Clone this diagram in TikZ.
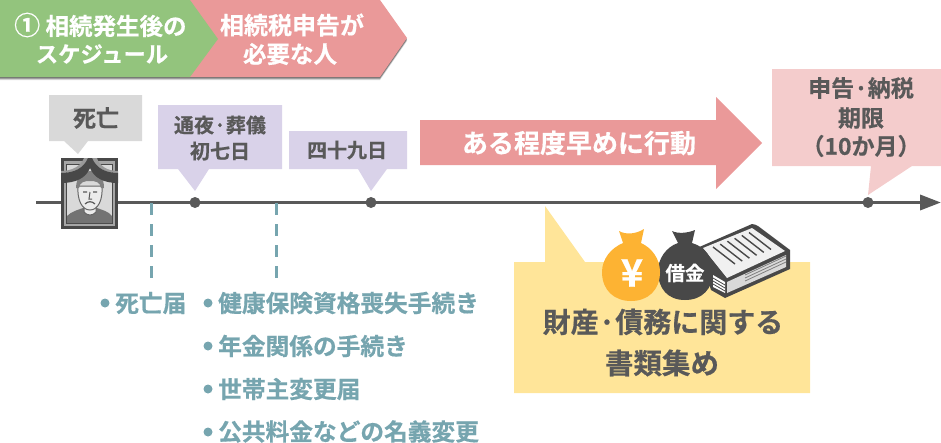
\documentclass[tikz,border=0pt]{standalone}
\usepackage{fontspec}
\setmainfont{Noto Sans CJK JP}[BoldFont={Noto Sans CJK JP Bold},BoldFeatures={FakeBold=0.5}]
\usetikzlibrary{arrows.meta}
\definecolor{grn}{HTML}{93C47D}
\definecolor{rosa}{HTML}{EA9999}
\definecolor{pinkb}{HTML}{F4CCCC}
\definecolor{lav}{HTML}{D9D2E9}
\definecolor{lgray}{HTML}{D9D9D9}
\definecolor{ink}{HTML}{595959}
\definecolor{teal}{HTML}{76A5AF}
\definecolor{yel}{HTML}{FFE599}
\definecolor{gold}{HTML}{FDB333}
\definecolor{dk}{HTML}{484848}
\tikzset{
  lbl/.style={inner sep=0pt,font=\bfseries\fontsize{#1}{#1}\selectfont},
  lbl/.default=20,
  wlbl/.style={lbl=#1,text=white},
  dlbl/.style={lbl=#1,text=ink},
  item/.style={lbl=23.7,text=teal,anchor=west},
  bullet/.style={circle,fill=teal,inner sep=0pt,minimum size=9pt},
  pin/.style={circle,fill=ink,inner sep=0pt,minimum size=11pt},
  dashline/.style={teal,line width=3pt,dash pattern=on 12pt off 9pt},
}
\begin{document}
\begin{tikzpicture}[x=1pt,y=-1pt]
\useasboundingbox (0,0) rectangle (941,442);
% header shadows
\foreach \o/\a in {3/0.15,2/0.25,1/0.3}{
  \fill[black,opacity=\a] (0,0+\o) -- (380,0+\o) -- (407,38+\o) -- (380,77+\o) -- (0,77+\o) -- cycle;
}
\fill[rosa] (180,0) -- (380,0) -- (407,38) -- (380,77) -- (180,77) -- cycle;
\fill[grn] (0,0) -- (190,0) -- (218,39) -- (190,77) -- (0,77) -- cycle;
\node[wlbl=23.5,anchor=west] (h1) at (14,25) {{\fontsize{26}{26}\selectfont ①} 相続発生後の};
\node[wlbl=22.3] (h2) at (102,54) {スケジュール};
\node[wlbl=24] (h3) at (292,25) {相続税申告が};
\node[wlbl=23.5] (h4) at (290,54) {必要な人};
% callouts
\fill[lgray] (49,95) -- (142,95) -- (142,141) -- (88,141) -- (78,154) -- (64,141) -- (49,141) -- cycle;
\node[dlbl=23] (c1) at (96,118) {死亡};
\fill[lav] (158,105) -- (282,105) -- (282,169) -- (209,169) -- (195,191) -- (178,169) -- (158,169) -- cycle;
\node[dlbl=20] (c2) at (220,125) {通夜·葬儀};
\node[dlbl=20] (c3) at (220,151) {初七日};
\fill[lav] (289,131) -- (407,131) -- (407,169) -- (387,169) -- (371,191) -- (358,169) -- (289,169) -- cycle;
\node[dlbl=20] (c4) at (347,150) {四十九日};
\fill[rosa] (420,120) -- (716,120) -- (716,97) -- (762,143) -- (716,189) -- (716,165) -- (420,165) -- cycle;
\node[wlbl=26] (ar) at (579,143) {ある程度早めに行動};
\fill[pinkb] (772,69) -- (941,69) -- (941,166) -- (912,166) -- (868,195) -- (871,166) -- (772,166) -- cycle;
\node[dlbl=23] (d1) at (861,88) {申告·納税};
\node[dlbl=23] (d2) at (861,118) {期限};
\node[dlbl=23] (d3) at (861,146) {（10か月）};
% timeline
\coordinate (ts) at (36,202.5);
\coordinate (te) at (941,202.5);
\draw[ink,line width=3.5pt,-{Triangle[length=21pt,width=15pt]}] (ts) -- (te);
\node[pin] (p1) at (195,202.5) {};
\node[pin] (p2) at (371,202.5) {};
\node[pin] (p3) at (868,202.5) {};
% dashed
\coordinate (a1) at (151.5,203); \coordinate (a2) at (151.5,278);
\coordinate (b1) at (276,203); \coordinate (b2) at (276,278);
\draw[dashline] (a1) -- (a2);
\draw[dashline] (b1) -- (b2);
% lists
\node[bullet] (l0) at (105,303) {};
\node[item] (t0) at (115,303) {死亡届};
\node[bullet] (l1) at (208,303) {};
\node[item] (t1) at (218,303) {健康保険資格喪失手続き};
\node[bullet] (l2) at (208,346) {};
\node[item] (t2) at (218,346) {年金関係の手続き};
\node[bullet] (l3) at (208,389) {};
\node[item] (t3) at (218,389) {世帯主変更届};
\node[bullet] (l4) at (208,432) {};
\node[item] (t4) at (218,431.5) {公共料金などの名義変更};
% portrait
\fill[dk] (61,158) rectangle (118,229);
\fill[gray!70] (64,161) rectangle (115,226);
\fill[dk] (66,164) rectangle (113,224);
\fill[white!85!black] (67,165) rectangle (112,223);
\fill[black!55] (67,223) -- (67,216) .. controls (72,211) and (78,210) .. (83,208) -- (97,208) .. controls (102,210) and (108,211) .. (112,216) -- (112,223) -- cycle;
\fill[white!92!black,draw=black!60,line width=1pt] (84,204) -- (84,212) .. controls (87,216) and (93,216) .. (96,212) -- (96,204) -- cycle;
\fill[white!92!black,draw=black!60,line width=1pt] (78,186) .. controls (77,200) and (82,210) .. (90,210) .. controls (98,210) and (103,200) .. (102,186) -- cycle;
\fill[black!50] (76,188) .. controls (76,176) and (84,171) .. (90,171) .. controls (98,171) and (104,176) .. (104,188) -- (101,188) .. controls (100,182) and (96,181) .. (90,181) .. controls (84,181) and (80,182) .. (79,188) -- cycle;
\draw[black!65,line width=1.2pt] (83,192) -- (87,192) (93,192) -- (97,192) (85,204) .. controls (88,201) and (92,201) .. (95,204);
\draw[black!65,line width=1pt] (90,192) -- (89,199) -- (92,199);
% ribbon
\fill[white!60!black] (84,158) .. controls (81,166) and (72,171) .. (61,171) -- (61,173) .. controls (74,173) and (84,168) .. (89,158) -- cycle;
\fill[white!60!black] (97,158) .. controls (99,166) and (108,171) .. (118,171) -- (118,173) .. controls (106,173) and (96,168) .. (91,158) -- cycle;
\fill[dk] (88,158) .. controls (84,168) and (74,173) .. (61,173) -- (61,183) .. controls (76,183) and (86,178) .. (90,168) .. controls (94,178) and (104,183) .. (118,183) -- (118,173) .. controls (106,173) and (96,168) .. (92,158) -- cycle;
% yellow callout
\fill[yel] (514,262) -- (545,262) -- (545,206) -- (585,262) -- (810,262) -- (810,393) -- (514,393) -- cycle;
% book
\fill[dk] (752,224) .. controls (754,224) and (756,225) .. (758,226) -- (790,250) -- (790,269) -- (725,298) -- (711,290) -- (697,248) -- cycle;
\fill[white!94!black] (703,248) -- (752,228) -- (785,251) -- (727,278) -- cycle;
\fill[white!85!black] (727,282) -- (786,255) -- (786,267) -- (727,293) -- cycle;
\fill[white] (713,275) -- (725,282) -- (725,293) -- (713,287) -- cycle;
\foreach \i in {0,...,2}{
  \draw[dk,line width=.8pt] (713,{278+\i*3}) -- (725,{285+\i*3});
  \draw[dk!70,line width=.8pt] (745,{275+\i*3}) -- (786,{256+\i*3});
}
\foreach \i in {0,...,5}{
  \draw[dk,line width=1.4pt] ({713+\i*7.2},{247-\i*2.9}) -- ({735+\i*7.2},{264-\i*2.9});
}
% bags
\fill[dk] (672,231) .. controls (678,234) and (688,233) .. (695,230) -- (692,243) .. controls (706,247) and (713,259) .. (713,271) .. controls (713,289) and (702,300) .. (685,300) .. controls (668,300) and (658,289) .. (658,271) .. controls (658,259) and (666,247) .. (678,243) -- cycle;
\node[wlbl=19.5] (debt) at (685,273) {借金};
\fill[gold] (619,231) .. controls (626,235) and (636,234) .. (644,229) -- (641,243) .. controls (652,248) and (660,259) .. (660,272) .. controls (660,290) and (648,301) .. (631,301) .. controls (614,301) and (602,290) .. (602,272) .. controls (602,259) and (611,248) .. (623,243) -- cycle;
\node[wlbl=38] (yen) at (632,273) {¥};
\node[dlbl=28] (y1) at (663,322) {財産·債務に関する};
\node[dlbl=28.5] (y2) at (662,363) {書類集め};
\end{tikzpicture}
\end{document}
